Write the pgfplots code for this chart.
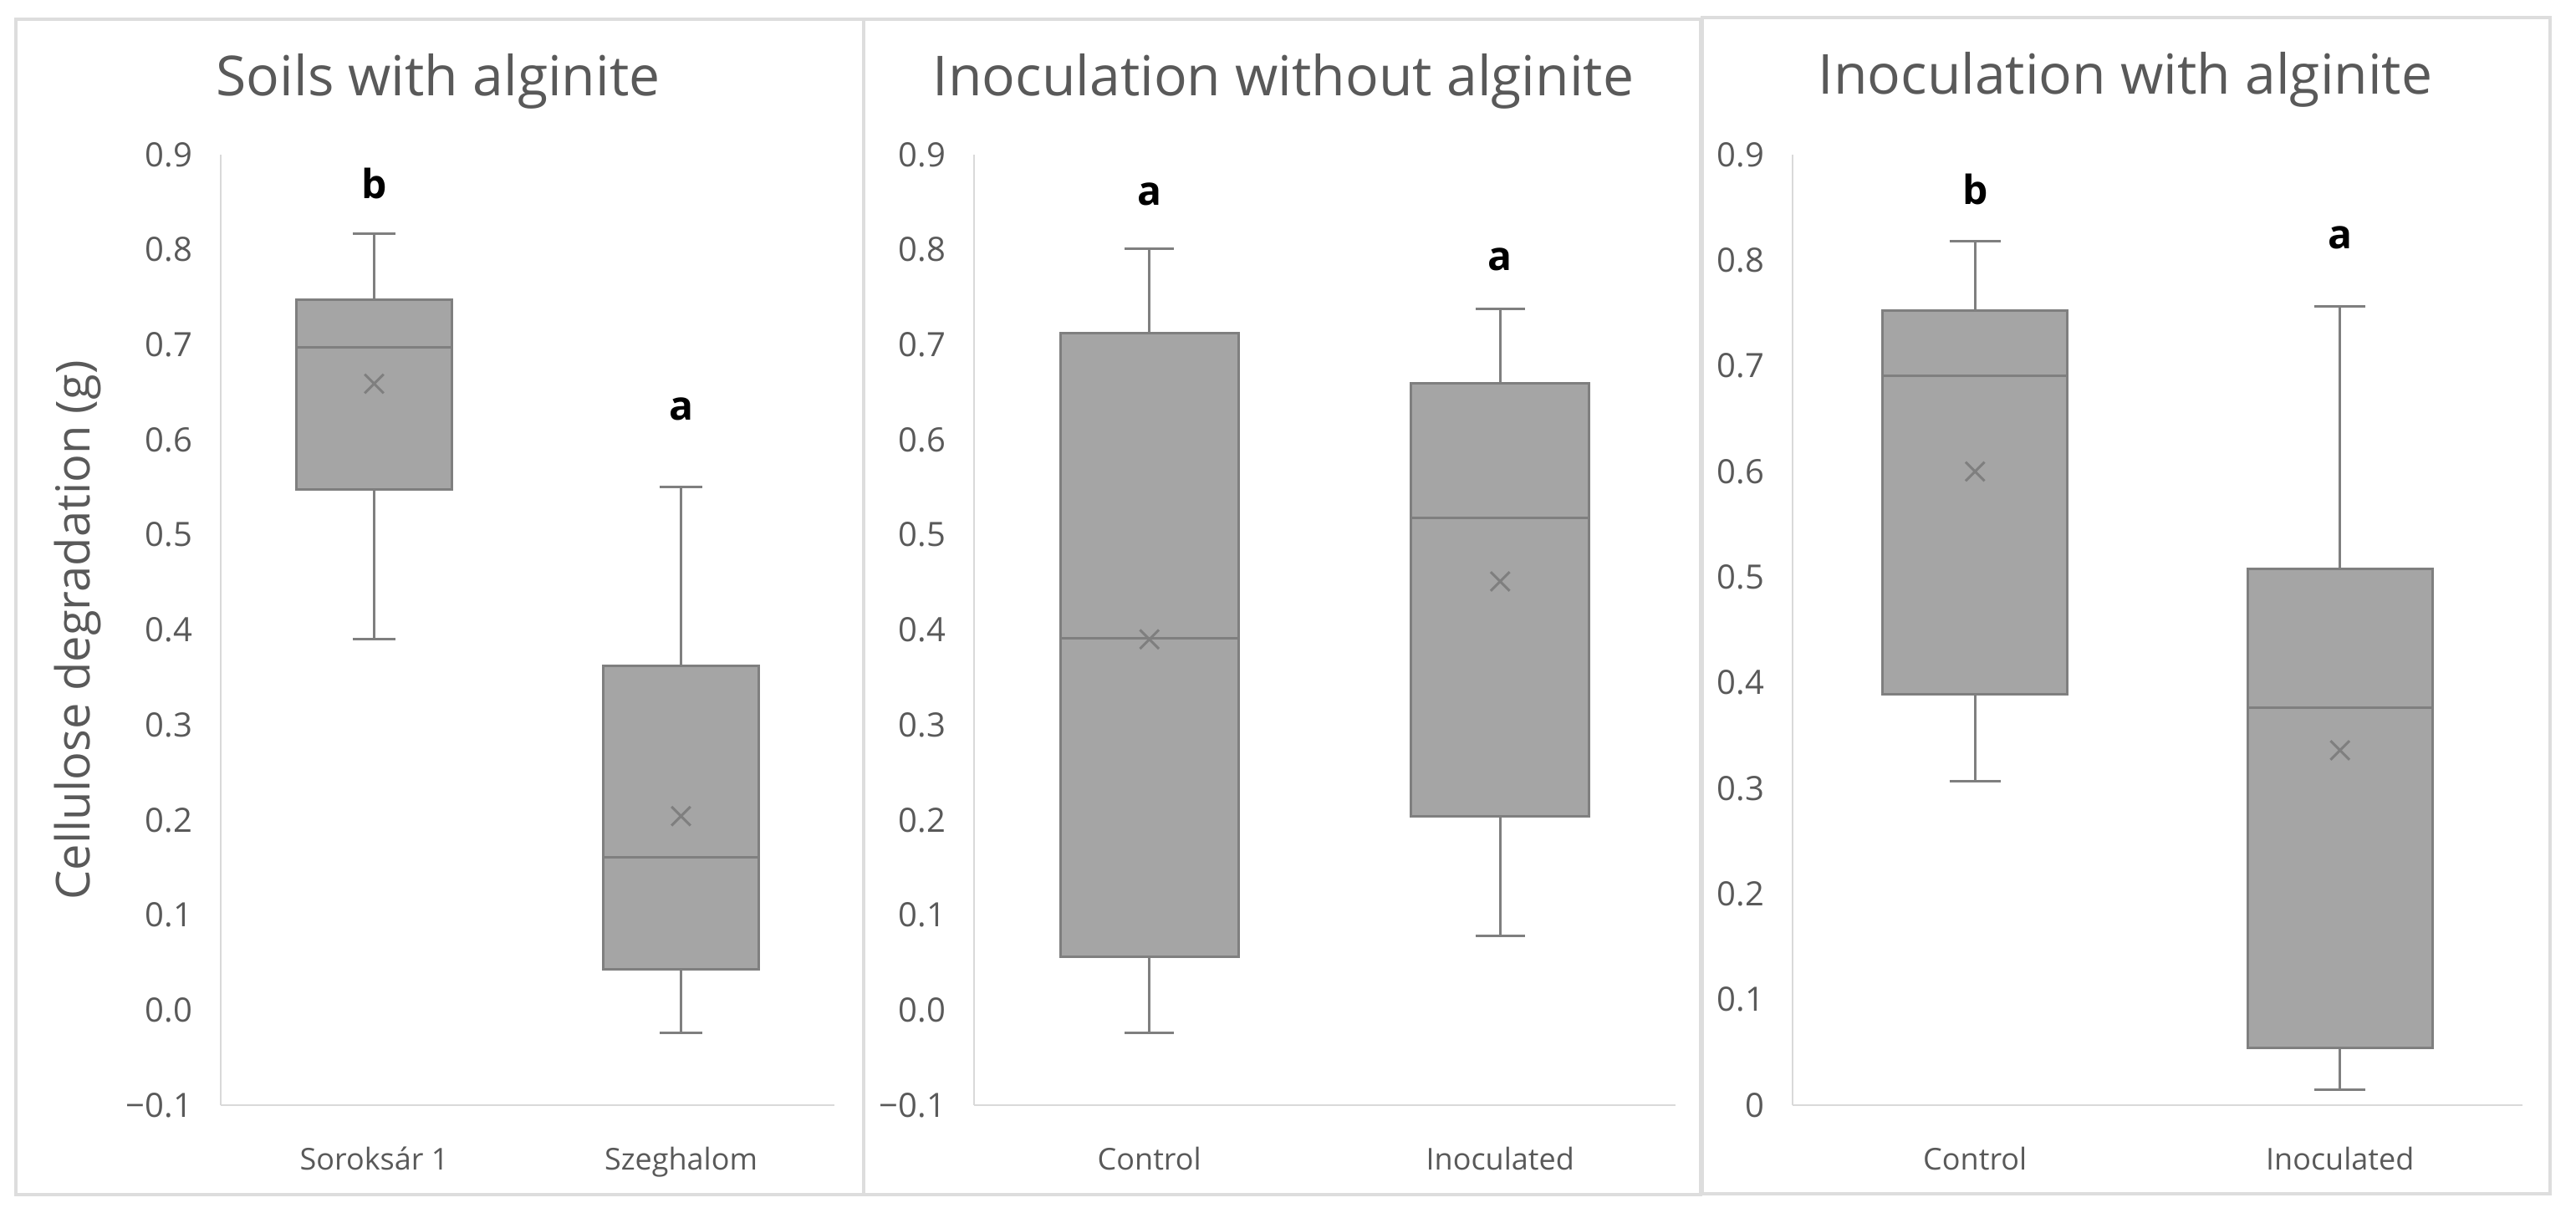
\documentclass[border=0pt]{standalone}
\usepackage{fontspec}
\setmainfont{Open Sans}
\usepackage{pgfplots}
\pgfplotsset{compat=1.18}
\usepgfplotslibrary{statistics}
\definecolor{boxfill}{HTML}{A5A5A5}
\definecolor{boxedge}{HTML}{7F7F7F}
\definecolor{axgray}{HTML}{D9D9D9}
\definecolor{txtgray}{HTML}{595959}
\definecolor{framegray}{HTML}{DDDDDD}
\tikzset{lt/.style={font=\bfseries\fontsize{12}{14}\selectfont, text=black}}
\pgfplotsset{
  panel/.style={
    scale only axis, anchor=south west,
    height=284.25pt,
    xmin=0.5, xmax=2.5, xtick={1,2},
    axis x line*=bottom, axis y line*=left,
    axis line style={draw=axgray, line width=0.6pt, -},
    major tick length=0pt, tick style={draw=none},
    yticklabel style={font=\fontsize{10}{12}\selectfont, text=txtgray, xshift=-5pt},
    xticklabel style={font=\fontsize{9}{11}\selectfont, text=txtgray, yshift=-9pt},
    clip=false,
    boxplot/draw direction=y,
  },
  bx/.style={fill=boxfill, draw=boxedge, line width=0.75pt, solid},
  mn/.style={only marks, mark=x, mark size=4pt, draw=boxedge, mark options={draw=boxedge, line width=0.75pt}},
}
\begin{document}
\begin{tikzpicture}
\path[use as bounding box] (0,0) rectangle (770.25pt,362.75pt);
% frames
\draw[framegray, line width=1pt] (4.75pt,5.5pt) rectangle (508.5pt,357pt);
\draw[framegray, line width=1pt] (258.25pt,5.5pt) -- (258.25pt,357pt);
\draw[framegray, line width=1pt] (509pt,5.75pt) rectangle (762.5pt,357.5pt);
% titles
\node[text=txtgray, font=\fontsize{16.5}{19}\selectfont] at (131pt,338.5pt) {Soils with alginite};
\node[text=txtgray, font=\fontsize{16.5}{19}\selectfont] at (383.75pt,338.5pt) {Inoculation without alginite};
\node[text=txtgray, font=\fontsize{16.5}{19}\selectfont] at (635.5pt,339pt) {Inoculation with alginite};
\node[text=txtgray, rotate=90, font=\fontsize{14}{16}\selectfont] at (23.25pt,174.25pt) {Cellulose degradation (g)};

% Panel 1
\begin{axis}[panel, at={(66pt,32.25pt)}, width=183.5pt,
  ymin=-0.1, ymax=0.9, ytick={-0.1,0,0.1,0.2,0.3,0.4,0.5,0.6,0.7,0.8,0.9},
  yticklabels={−0.1,0.0,0.1,0.2,0.3,0.4,0.5,0.6,0.7,0.8,0.9},
  xticklabels={Soroksár 1,Szeghalom}]
\addplot[bx, boxplot prepared={draw direction=y, draw position=1, lower whisker=0.390, lower quartile=0.548, median=0.697, upper quartile=0.747, upper whisker=0.817, box extend=0.507, whisker extend=0.14}] coordinates {};
\addplot[bx, boxplot prepared={draw direction=y, draw position=2, lower whisker=-0.024, lower quartile=0.043, median=0.161, upper quartile=0.362, upper whisker=0.550, box extend=0.507, whisker extend=0.14}] coordinates {};
\addplot[mn] coordinates {(1,0.659) (2,0.204)};
\node[lt] at (axis cs:1,0.870) {b};
\node[lt] at (axis cs:2,0.632) {a};
\end{axis}

% Panel 2
\begin{axis}[panel, at={(291.25pt,32.25pt)}, width=209.75pt,
  ymin=-0.1, ymax=0.9, ytick={-0.1,0,0.1,0.2,0.3,0.4,0.5,0.6,0.7,0.8,0.9},
  yticklabels={−0.1,0.0,0.1,0.2,0.3,0.4,0.5,0.6,0.7,0.8,0.9},
  xticklabels={Control,Inoculated}]
\addplot[bx, boxplot prepared={draw direction=y, draw position=1, lower whisker=-0.024, lower quartile=0.056, median=0.391, upper quartile=0.7125, upper whisker=0.801, box extend=0.507, whisker extend=0.14}] coordinates {};
\addplot[bx, boxplot prepared={draw direction=y, draw position=2, lower whisker=0.078, lower quartile=0.204, median=0.518, upper quartile=0.659, upper whisker=0.738, box extend=0.507, whisker extend=0.14}] coordinates {};
\addplot[mn] coordinates {(1,0.390) (2,0.451)};
\node[lt] at (axis cs:1,0.858) {a};
\node[lt] at (axis cs:2,0.790) {a};
\end{axis}

% Panel 3
\begin{axis}[panel, at={(536pt,32.25pt)}, width=218.25pt,
  ymin=0, ymax=0.9, ytick={0,0.1,0.2,0.3,0.4,0.5,0.6,0.7,0.8,0.9},
  yticklabels={0,0.1,0.2,0.3,0.4,0.5,0.6,0.7,0.8,0.9},
  xticklabels={Control,Inoculated}]
\addplot[bx, boxplot prepared={draw direction=y, draw position=1, lower whisker=0.307, lower quartile=0.389, median=0.691, upper quartile=0.752, upper whisker=0.818, box extend=0.507, whisker extend=0.14}] coordinates {};
\addplot[bx, boxplot prepared={draw direction=y, draw position=2, lower whisker=0.015, lower quartile=0.054, median=0.376, upper quartile=0.508, upper whisker=0.756, box extend=0.507, whisker extend=0.14}] coordinates {};
\addplot[mn] coordinates {(1,0.600) (2,0.336)};
\node[lt] at (axis cs:1,0.867) {b};
\node[lt] at (axis cs:2,0.821) {a};
\end{axis}
\end{tikzpicture}
\end{document}
